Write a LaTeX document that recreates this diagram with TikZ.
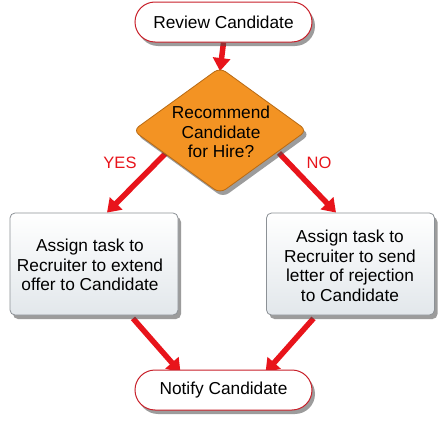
\documentclass[tikz,border=0pt]{standalone}
\usepackage{fontspec}
\setmainfont{Liberation Sans}
\usetikzlibrary{shapes.geometric,arrows.meta,shadows}
\pgfdeclarelayer{back}
\pgfsetlayers{back,main}
\definecolor{arrowred}{HTML}{E8141B}
\definecolor{pillred}{HTML}{C8202A}
\definecolor{diafill}{HTML}{F39323}
\definecolor{diaedge}{HTML}{B86A14}
\definecolor{boxedge}{HTML}{8C9196}
\definecolor{boxbottom}{HTML}{E2E7EB}
\begin{document}
\begin{tikzpicture}[x=1pt,y=-1pt,
  every node/.style={font=\fontsize{17.3}{19.5}\selectfont, align=center},
  shadowed/.style={drop shadow={shadow xshift=3pt, shadow yshift=-4pt, opacity=.55, fill=black!70}},
  pill/.style={draw=pillred, line width=1pt, fill=white, rounded corners=20pt,
    minimum width=177pt, minimum height=40pt, inner sep=0pt, shadowed},
  taskbox/.style={draw=boxedge, line width=0.8pt, top color=white, bottom color=boxbottom,
    rounded corners=5pt, minimum width=168pt, minimum height=102pt, inner sep=0pt, shadowed},
  dia/.style={diamond, draw=diaedge, line width=0.8pt, fill=diafill, rounded corners=7pt,
    minimum width=174pt, minimum height=126pt, inner sep=0pt, shadowed},
  arr/.style={draw=arrowred, line width=5.5pt, -{Triangle[width=17pt,length=13pt]}},
  lbl/.style={text=arrowred, font=\fontsize{16.5}{18}\selectfont}
]
\useasboundingbox (0,0) rectangle (448,423);

\node[pill] (review) at (223.5,22) {Review Candidate};
\node[dia] (dec) at (220,130.5) {};
\node (dectext) at (221,132) {Recommend\\Candidate\\for Hire?};
\node[taskbox] (lbox) at (94,264) {};
\node (ltext) at (90,265) {Assign task to\\Recruiter to extend\\offer to Candidate};
\node[taskbox] (rbox) at (350.5,264) {};
\node (rtext) at (350,266) {Assign task to\\Recruiter to send\\letter of rejection\\to Candidate};
\node[pill] (notify) at (223.5,390) {Notify Candidate};

\coordinate (ls) at (166,153);
\coordinate (rs) at (279,153);

\begin{pgfonlayer}{back}
\fill[white] (0,0) rectangle (448,423);
\draw[arr] (review.south) -- ([yshift=-4pt]dec.north);
\draw[arr] (ls) -- ([xshift=13pt]lbox.north);
\draw[arr] (rs) -- ([xshift=-14.5pt]rbox.north);
\draw[arr] ([xshift=39pt,yshift=-3pt]lbox.south) -- ([xshift=-43pt,yshift=-3pt]notify.north);
\draw[arr] ([xshift=-37pt,yshift=-3pt]rbox.south) -- ([xshift=42pt,yshift=-3pt]notify.north);
\end{pgfonlayer}

\node[lbl] (yes) at (120,163) {YES};
\node[lbl] (no) at (319,163) {NO};
\end{tikzpicture}
\end{document}
